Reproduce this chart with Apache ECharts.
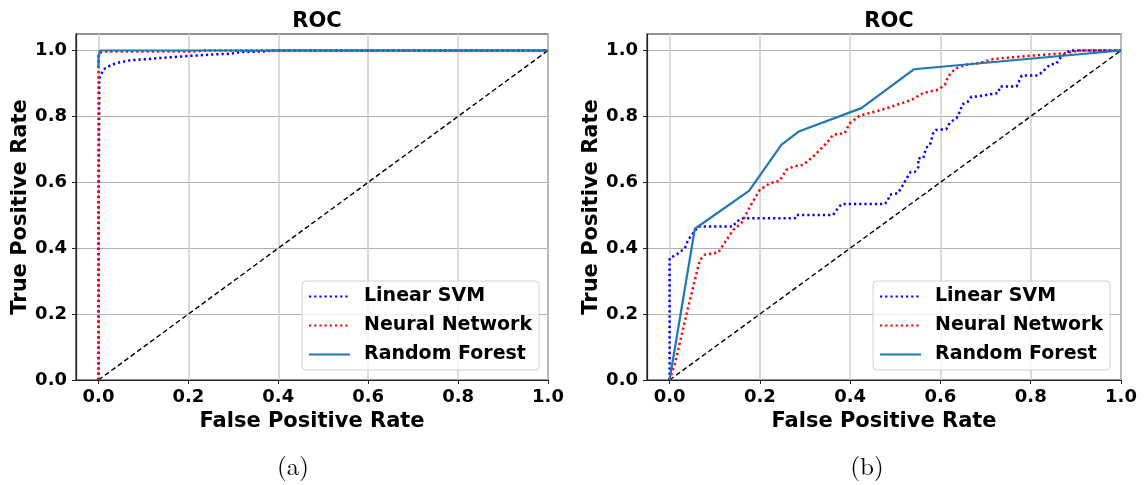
<!DOCTYPE html>
<html lang="en">
<head>
    <meta charset="UTF-8">
    <title>ROC</title>
    <script src="https://cdn.jsdelivr.net/npm/echarts@6/dist/echarts.min.js"></script>
    <style>
        html, body { margin: 0; padding: 0; background: #fff; }
        #chart { width: 1145px; height: 485px; }
    </style>
</head>
<body>
<div id="chart"></div>
<script type="text/javascript">
    // 刻度
    var ticks = [0, 0.2, 0.4, 0.6, 0.8, 1.0];
    var seriesNames = ['Linear SVM', 'Neural Network', 'Random Forest'];
    var captions = ['(a)', '(b)'];

    // (a) 左图
    var svmA_fpr = [0, 0, 0.002, 0.011, 0.026, 0.041, 0.07, 0.137, 0.197, 0.256, 0.293, 0.315, 0.366, 0.39, 1.0];
    var svmA_tpr = [0, 0.45, 0.916, 0.943, 0.954, 0.962, 0.97, 0.977, 0.983, 0.988, 0.99, 0.995, 0.997, 1.0, 1.0];
    var nnA_fpr = [0, 0, 0.003, 0.011, 0.22, 0.23, 1.0];
    var nnA_tpr = [0, 0.985, 0.992, 0.997, 0.997, 1.0, 1.0];
    var rfA_fpr = [0, 0, 0.003, 1.0];
    var rfA_tpr = [0.946, 0.975, 1.0, 1.0];

    // (b) 右图
    var svmB_fpr = [0, 0, 0.015, 0.034, 0.041, 0.052, 0.063, 0.141, 0.148, 0.163, 0.278, 0.281, 0.362, 0.37, 0.381,
        0.477, 0.484, 0.488, 0.506, 0.514, 0.521, 0.528, 0.534, 0.543, 0.551, 0.551, 0.562, 0.568, 0.577, 0.584, 0.59,
        0.613, 0.621, 0.636, 0.645, 0.647, 0.661, 0.669, 0.68, 0.728, 0.732, 0.769, 0.78, 0.816, 0.827, 0.842, 0.857,
        0.868, 0.887, 1.0];
    var svmB_tpr = [0, 0.37, 0.38, 0.40, 0.425, 0.445, 0.466, 0.466, 0.481, 0.491, 0.491, 0.501, 0.501, 0.516, 0.534,
        0.534, 0.547, 0.562, 0.567, 0.585, 0.602, 0.619, 0.631, 0.631, 0.646, 0.673, 0.673, 0.704, 0.714, 0.749, 0.759,
        0.761, 0.781, 0.795, 0.82, 0.835, 0.845, 0.86, 0.86, 0.871, 0.891, 0.891, 0.924, 0.924, 0.936, 0.957, 0.96,
        0.982, 1.0, 1.0];
    var nnB_fpr = [0, 0.012, 0.038, 0.067, 0.078, 0.108, 0.126, 0.141, 0.159, 0.178, 0.2, 0.222, 0.244, 0.259, 0.274,
        0.296, 0.318, 0.348, 0.362, 0.388, 0.399, 0.421, 0.47, 0.51, 0.536, 0.562, 0.595, 0.61, 0.617, 0.632, 0.658,
        0.687, 0.717, 0.798, 0.879, 0.909, 1.0];
    var nnB_tpr = [0, 0.05, 0.203, 0.364, 0.38, 0.387, 0.425, 0.455, 0.476, 0.526, 0.577, 0.597, 0.605, 0.638, 0.648,
        0.653, 0.678, 0.719, 0.744, 0.749, 0.779, 0.802, 0.82, 0.838, 0.85, 0.871, 0.881, 0.896, 0.921, 0.944, 0.957,
        0.962, 0.974, 0.984, 0.992, 1.0, 1.0];
    var rfB_fpr = [0, 0.056, 0.176, 0.248, 0.286, 0.425, 0.541, 1.0];
    var rfB_tpr = [0, 0.459, 0.574, 0.714, 0.754, 0.825, 0.943, 1.0];

    var chance_fpr = [0, 1];
    var chance_tpr = [0, 1];

    var fontFamily = 'DejaVu Sans';

    function pairs(xs, ys) {
        return xs.map(function (x, i) { return [x, ys[i]]; });
    }

    function makeXAxis(idx) {
        return {
            type: 'value', gridIndex: idx, min: -0.05, max: 1.0,
            name: 'False Positive Rate', nameLocation: 'middle', nameGap: 30,
            nameTextStyle: {fontFamily: fontFamily, fontWeight: 'bold', fontSize: 21, color: '#000'},
            axisLine: {show: true, onZero: false, lineStyle: {color: '#222', width: 1.2}},
            axisTick: {show: true, length: 4, customValues: ticks, lineStyle: {color: '#222'}},
            axisLabel: {customValues: ticks, margin: 8, fontFamily: fontFamily, fontWeight: 'bold', fontSize: 18, color: '#000',
                formatter: function (v) { return v.toFixed(1); }},
            splitLine: {show: true, lineStyle: {color: '#cfcfcf', width: 1.5}}
        };
    }

    function makeYAxis(idx) {
        return {
            type: 'value', gridIndex: idx, min: 0, max: 1.05,
            name: 'True Positive Rate', nameLocation: 'middle', nameGap: 45,
            nameTextStyle: {fontFamily: fontFamily, fontWeight: 'bold', fontSize: 21, color: '#000'},
            axisLine: {show: true, onZero: false, lineStyle: {color: '#222', width: 1.2}},
            axisTick: {show: true, length: 4, customValues: ticks, lineStyle: {color: '#222'}},
            axisLabel: {customValues: ticks, margin: 9, fontFamily: fontFamily, fontWeight: 'bold', fontSize: 18, color: '#000',
                formatter: function (v) { return v.toFixed(1); }},
            splitLine: {show: true, lineStyle: {color: '#b0b0b0', width: 1}}
        };
    }

    function makeSeries(idx, svm, nn, rf) {
        return [
            {
                name: 'chance', type: 'line', xAxisIndex: idx, yAxisIndex: idx, symbol: 'none', silent: true, z: 2,
                data: pairs(chance_fpr, chance_tpr),
                lineStyle: {color: '#000', width: 1.4, type: [5, 3]}
            },
            {
                name: seriesNames[0], type: 'line', xAxisIndex: idx, yAxisIndex: idx, symbol: 'none', z: 3,
                data: svm, itemStyle: {color: '#0000ff'},
                lineStyle: {color: '#0000ff', width: 2.5, type: [2.2, 3]}
            },
            {
                name: seriesNames[1], type: 'line', xAxisIndex: idx, yAxisIndex: idx, symbol: 'none', z: 4,
                data: nn, itemStyle: {color: '#ff0000'},
                lineStyle: {color: '#ff0000', width: 2.5, type: [2.2, 3]}
            },
            {
                name: seriesNames[2], type: 'line', xAxisIndex: idx, yAxisIndex: idx, symbol: 'none', z: 5,
                data: rf, itemStyle: {color: '#1f77b4'},
                lineStyle: {color: '#1f77b4', width: 2.2}
            }
        ];
    }

    function makeLegend(left) {
        return {
            data: seriesNames, orient: 'vertical', left: left, top: 281,
            itemWidth: 41, itemHeight: 14, itemGap: 10,
            padding: [6, 7, 6, 6],
            itemStyle: {opacity: 0},
            backgroundColor: 'rgba(255,255,255,0.8)', borderColor: '#d0d0d0', borderWidth: 1, borderRadius: 4,
            textStyle: {fontFamily: fontFamily, fontWeight: 'bold', fontSize: 19, color: '#000', padding: [0, 0, 0, 9]}
        };
    }

    var chart = echarts.init(document.getElementById('chart'), null, {renderer: 'canvas'});

    var option = {
        animation: false,
        backgroundColor: '#fff',
        title: [
            {text: 'ROC', left: 312, top: 6, textAlign: 'center',
                textStyle: {fontFamily: fontFamily, fontWeight: 'bold', fontSize: 21, color: '#000'}},
            {text: 'ROC', left: 884, top: 6, textAlign: 'center',
                textStyle: {fontFamily: fontFamily, fontWeight: 'bold', fontSize: 21, color: '#000'}},
            {text: captions[0], left: 288, top: 450, textAlign: 'center',
                textStyle: {fontFamily: 'Latin Modern Roman, DejaVu Serif', fontWeight: 'normal', fontSize: 25, color: '#000'}},
            {text: captions[1], left: 862, top: 450, textAlign: 'center',
                textStyle: {fontFamily: 'Latin Modern Roman, DejaVu Serif', fontWeight: 'normal', fontSize: 25, color: '#000'}}
        ],
        grid: [
            {left: 76, top: 34, width: 472, height: 346, show: true, borderColor: '#222', borderWidth: 1.2, backgroundColor: 'transparent'},
            {left: 647, top: 34, width: 474, height: 346, show: true, borderColor: '#222', borderWidth: 1.2, backgroundColor: 'transparent'}
        ],
        xAxis: [makeXAxis(0), makeXAxis(1)],
        yAxis: [makeYAxis(0), makeYAxis(1)],
        legend: [makeLegend(302), makeLegend(873)],
        series: makeSeries(0, pairs(svmA_fpr, svmA_tpr), pairs(nnA_fpr, nnA_tpr), pairs(rfA_fpr, rfA_tpr))
            .concat(makeSeries(1, pairs(svmB_fpr, svmB_tpr), pairs(nnB_fpr, nnB_tpr), pairs(rfB_fpr, rfB_tpr)))
    };

    chart.setOption(option);
</script>
</body>
</html>
